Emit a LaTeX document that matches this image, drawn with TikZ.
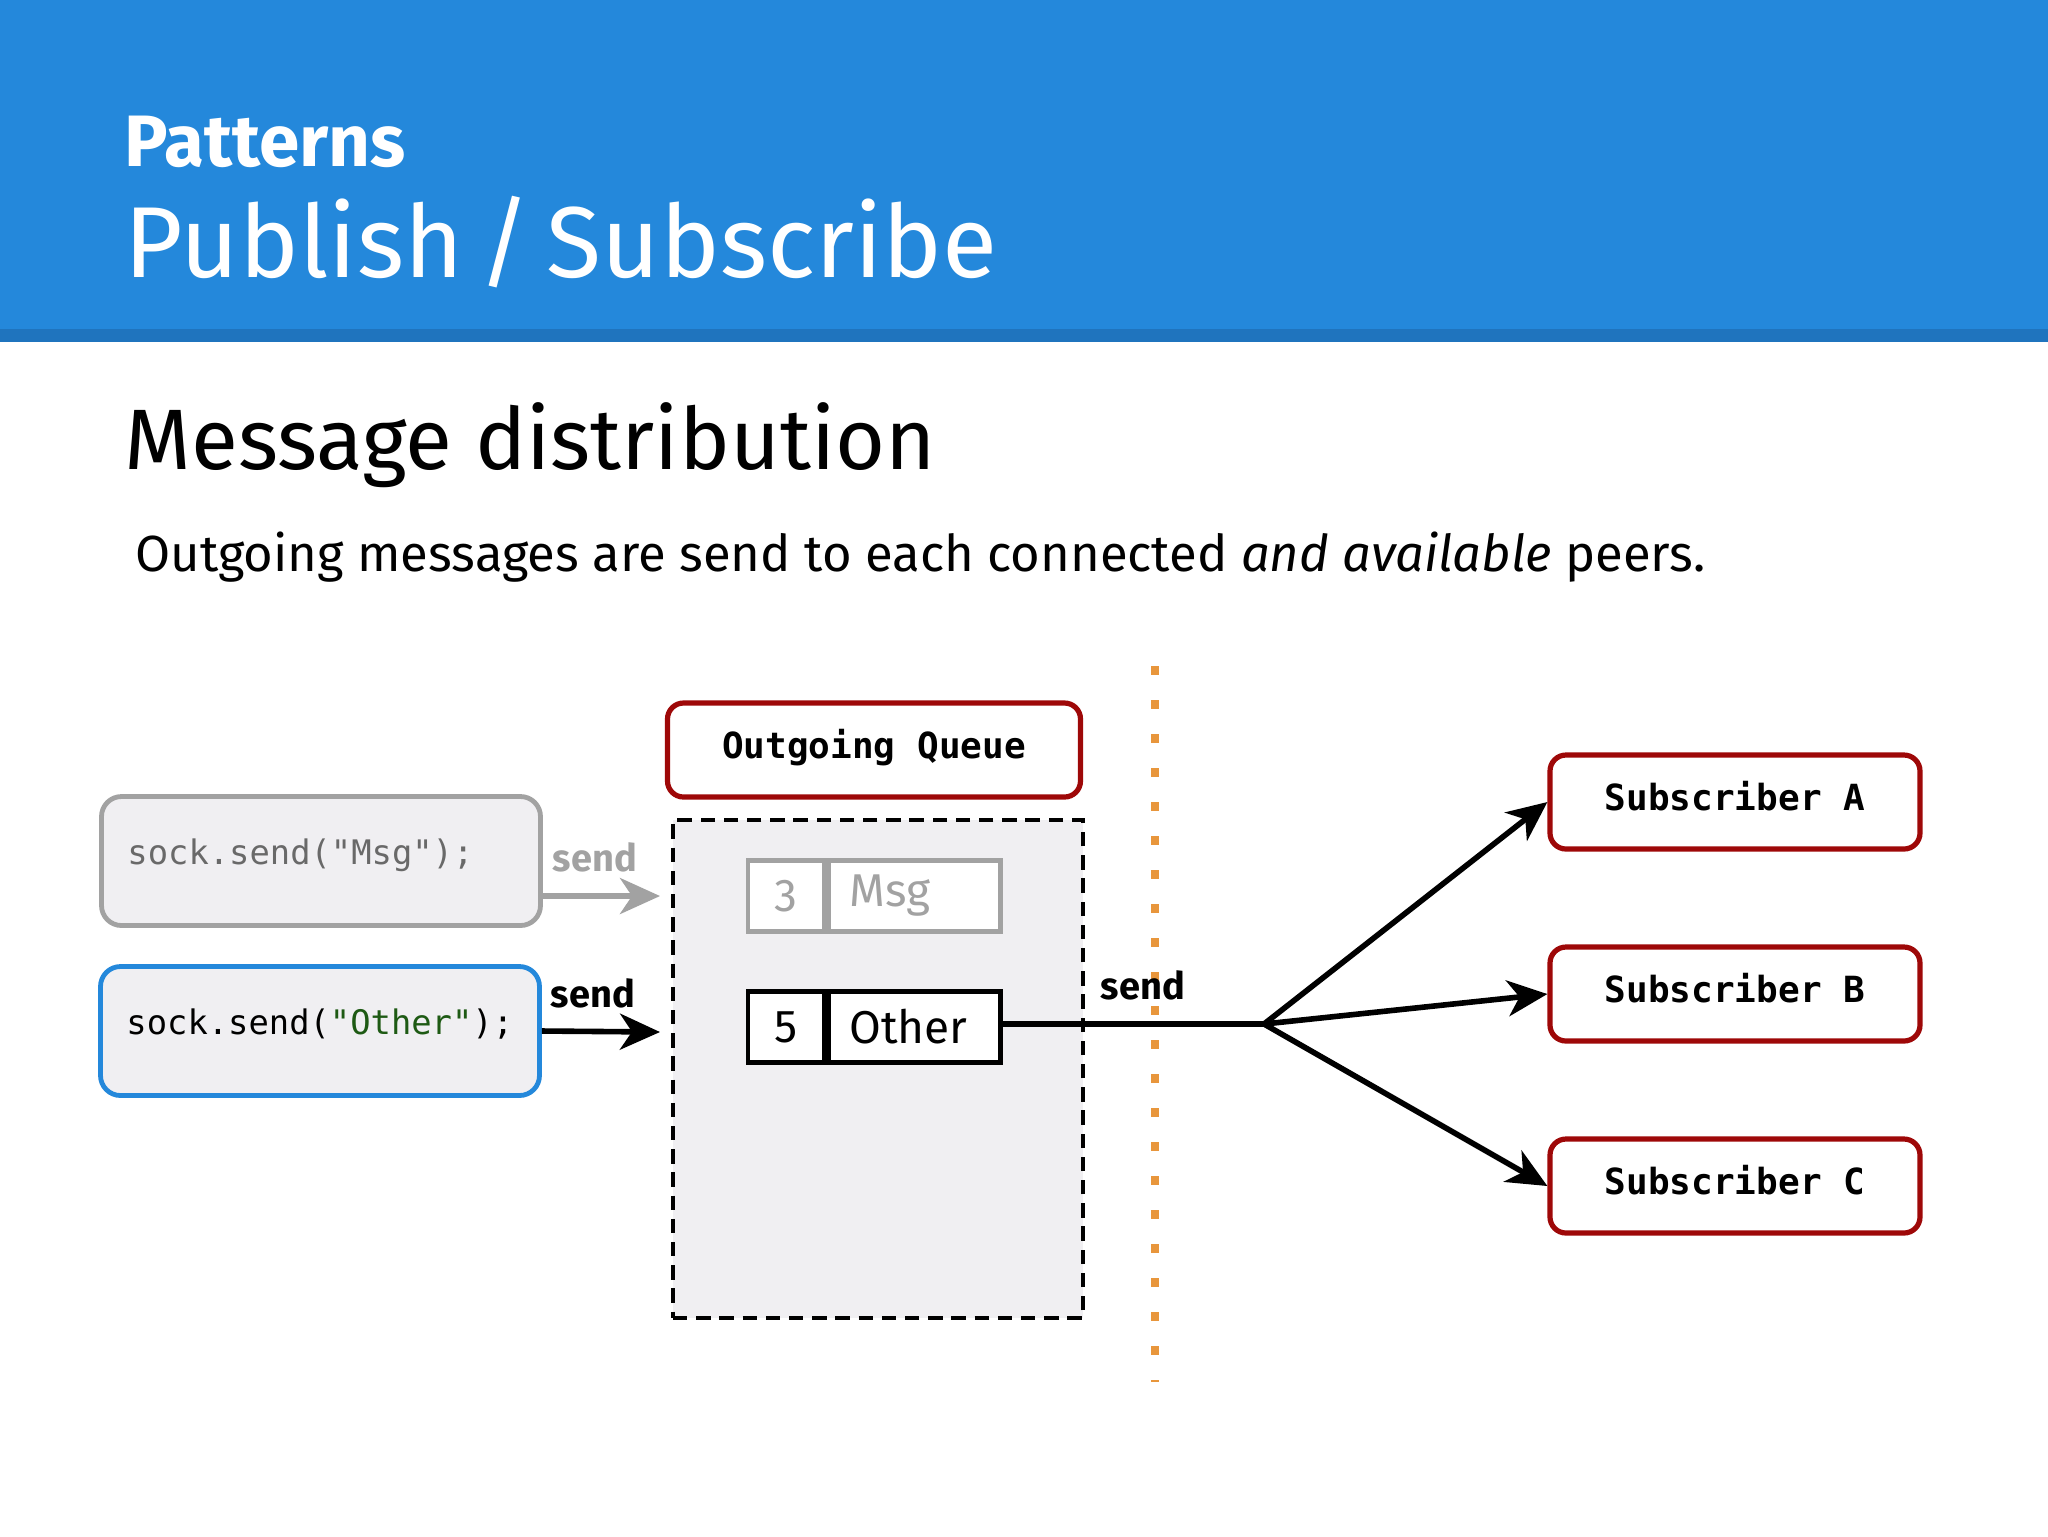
\documentclass[tikz,border=0pt]{standalone}
\usepackage{fontspec}
\setmainfont{Fira Sans}
\setmonofont{DejaVu Sans Mono}
\usetikzlibrary{arrows.meta,positioning}

\definecolor{headblue}{RGB}{36,136,219}
\definecolor{headstrip}{RGB}{31,116,190}
\definecolor{boxred}{RGB}{158,8,8}
\definecolor{codefill}{RGB}{240,239,242}
\definecolor{ghost}{RGB}{162,162,162}
\definecolor{ghosttext}{RGB}{105,105,105}
\definecolor{strgreen}{RGB}{30,90,20}
\definecolor{dotorange}{RGB}{232,150,60}

\tikzset{
  heading/.style={anchor=base west, inner sep=0pt},
  codebox/.style={fill=codefill, line width=1.2pt, rounded corners=5pt,
    minimum width=109.75pt, minimum height=32.25pt, inner xsep=6.5pt,
    text width=96.75pt, text depth=4.5pt, align=left,
    font=\ttfamily\fontsize{8.45}{10}\selectfont},
  redbox/.style={draw=boxred, fill=white, line width=1.3pt, rounded corners=4pt,
    minimum height=23.5pt, text depth=3pt,
    font=\ttfamily\bfseries\fontsize{9}{10}\selectfont},
  queuebox/.style={draw=black, fill=codefill, line width=1.1pt,
    dash pattern=on 3.6pt off 2.2pt, minimum width=102.5pt, minimum height=124.5pt},
  cellnum/.style={draw, fill=white, line width=1.1pt,
    minimum width=19pt, minimum height=17.75pt, font=\fontsize{11.5}{12}\selectfont},
  celltxt/.style={cellnum, minimum width=43pt, inner xsep=5.25pt,
    text width=32.5pt, align=left},
  sendlbl/.style={anchor=base west, inner sep=0pt, font=\bfseries\fontsize{9.5}{10}\selectfont},
  wire/.style={line width=1.4pt},
  push/.style={wire, -{Stealth[length=10pt,width=9pt,inset=3pt]}},
  dotline/.style={draw=dotorange, line width=2.2pt, dash pattern=on 2.2pt off 6.3pt}
}

\begin{document}
\begin{tikzpicture}[x=0.25pt,y=0.25pt,yscale=-1]
\useasboundingbox (0,0) rectangle (2048,1536);
\fill[white] (0,0) rectangle (2048,1536);

% header band
\fill[headblue] (0,0) rectangle (2048,329);
\fill[headstrip] (0,329) rectangle (2048,342);
\node[heading, text=white, font=\bfseries\fontsize{18.2}{20}\selectfont] (kicker) at (124,166) {Patterns};
\node[heading, text=white, font=\fontsize{25.2}{28}\selectfont] (title) at (124,277) {Publish\hspace{3.9pt}/\hspace{3.9pt}Subscribe};

% slide text
\node[heading, font=\fontsize{21.45}{24}\selectfont] (subtitle) at (124,469) {Message distribution};
\node[heading, font=\fontsize{12.7}{14}\selectfont] (lead) at (135,571) {Outgoing messages are send to each connected \textit{and available} peers.};

% producers
\node[codebox, draw=ghost, text=ghosttext] (msgbox) at (321,861) {sock.send("Msg");};
\node[codebox, draw=headblue] (otherbox) at (320,1031) {sock.send(\textcolor{strgreen}{"Other"});};

% queue
\node[queuebox] (queue) at (878,1069) {};
\node[redbox, minimum width=103.25pt] (qtitle) at (874,750) {Outgoing Queue};
\node[cellnum, draw=ghost, text=ghost] (num3) at (786,896) {3};
\node[celltxt, draw=ghost, text=ghost, right=0pt of num3] (txt3) {Msg};
\node[cellnum] (num5) at (786,1027) {5};
\node[celltxt, right=0pt of num5] (txt5) {Other};

% into the queue
\coordinate (inMsg) at (660,896);
\coordinate (inOther) at (660,1032);
\draw[push, ghost] (msgbox.east |- inMsg) -- (inMsg);
\draw[push] (otherbox.east) -- (inOther);
\node[sendlbl, text=ghost] (sendMsg) at (552,871) {send};
\node[sendlbl] (sendOther) at (550,1007) {send};

% boundary
\draw[dotline] (1155,666) -- (1155,1382);

% subscribers
\node[redbox, minimum width=92.5pt] (subA) at (1735,802) {Subscriber A};
\node[redbox, minimum width=92.5pt] (subB) at (1735,994) {Subscriber B};
\node[redbox, minimum width=92.5pt] (subC) at (1735,1186) {Subscriber C};

% fan out
\coordinate (fork) at (1264,1024);
\draw[wire] (txt5.east |- fork) -- (fork);
\draw[push] (fork) -- (subA.west);
\draw[push] (fork) -- (subB.west);
\draw[push] (fork) -- (subC.west);
\node[sendlbl] (sendOut) at (1100,999) {send};

\end{tikzpicture}
\end{document}
